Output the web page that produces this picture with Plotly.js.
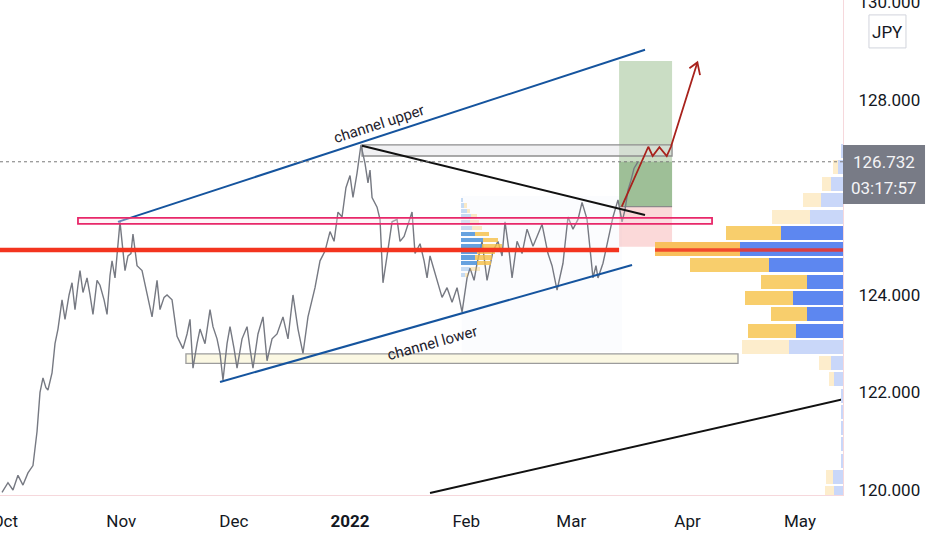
<!DOCTYPE html>
<html>
<head>
<meta charset="utf-8">
<script src="https://cdn.plot.ly/plotly-3.0.1.min.js"></script>
<style>html,body{margin:0;padding:0;background:#fff;}#chart{width:932px;height:550px;}</style>
</head>
<body>
<div id="chart"></div>
<script>
// ---------- price series ----------
const priceTime = ['2021-09-30 05:00','2021-10-01 19:00','2021-10-03 03:00','2021-10-04 11:00','2021-10-05 19:00','2021-10-07 03:00','2021-10-08 11:00','2021-10-09 13:00','2021-10-10 08:00','2021-10-11 03:00','2021-10-11 22:00','2021-10-12 11:00','2021-10-13 13:00','2021-10-14 08:00','2021-10-15 03:00','2021-10-16 05:00','2021-10-17 00:00','2021-10-18 02:00','2021-10-18 21:00','2021-10-19 16:00','2021-10-20 11:00','2021-10-21 00:00','2021-10-21 19:00','2021-10-22 21:00','2021-10-23 16:00','2021-10-24 11:00','2021-10-25 13:00','2021-10-26 08:00','2021-10-27 10:00','2021-10-28 05:00','2021-10-29 00:00','2021-10-29 13:00','2021-10-30 08:00','2021-10-31 03:00','2021-10-31 16:00','2021-11-01 11:00','2021-11-02 00:00','2021-11-02 19:00','2021-11-03 14:00','2021-11-04 03:00','2021-11-05 05:00','2021-11-06 13:00','2021-11-07 21:00','2021-11-09 05:00','2021-11-10 13:00','2021-11-11 08:00','2021-11-12 10:00','2021-11-13 05:00','2021-11-14 13:00','2021-11-15 21:00','2021-11-17 11:00','2021-11-18 13:00','2021-11-19 08:00','2021-11-20 03:00','2021-11-21 05:00','2021-11-22 00:00','2021-11-23 08:00','2021-11-24 16:00','2021-11-25 11:00','2021-11-26 13:00','2021-11-27 08:00','2021-11-28 03:00','2021-11-29 05:00','2021-11-30 00:00','2021-12-01 02:00','2021-12-01 21:00','2021-12-03 05:00','2021-12-04 13:00','2021-12-05 08:00','2021-12-06 03:00','2021-12-07 11:00','2021-12-08 19:00','2021-12-09 21:00','2021-12-11 05:00','2021-12-12 13:00','2021-12-14 03:00','2021-12-15 11:00','2021-12-16 19:00','2021-12-18 03:00','2021-12-19 11:00','2021-12-20 19:00','2021-12-21 21:00','2021-12-22 16:00','2021-12-24 00:00','2021-12-25 08:00','2021-12-26 16:00','2021-12-27 18:00','2021-12-28 19:00','2021-12-29 21:00','2021-12-30 22:00','2022-01-01 00:00','2022-01-01 19:00','2022-01-02 21:00','2022-01-03 22:00','2022-01-05 00:00','2022-01-05 19:00','2022-01-06 08:00','2022-01-06 21:00','2022-01-08 05:00','2022-01-09 00:00','2022-01-09 19:00','2022-01-10 21:00','2022-01-12 05:00','2022-01-13 13:00','2022-01-14 08:00','2022-01-15 10:00','2022-01-16 05:00','2022-01-17 13:00','2022-01-18 08:00','2022-01-19 16:00','2022-01-20 18:00','2022-01-21 13:00','2022-01-22 08:00','2022-01-23 10:00','2022-01-24 05:00','2022-01-25 13:00','2022-01-26 21:00','2022-01-28 05:00','2022-01-29 13:00','2022-01-30 21:00','2022-02-01 05:00','2022-02-02 00:00','2022-02-03 02:00','2022-02-03 21:00','2022-02-05 05:00','2022-02-06 13:00','2022-02-08 03:00','2022-02-09 11:00','2022-02-10 13:00','2022-02-11 08:00','2022-02-12 10:00','2022-02-13 05:00','2022-02-14 13:00','2022-02-15 21:00','2022-02-17 05:00','2022-02-18 19:00','2022-02-19 21:00','2022-02-21 05:00','2022-02-22 19:00','2022-02-23 21:00','2022-02-25 05:00','2022-02-26 19:00','2022-02-28 03:00','2022-03-01 11:00','2022-03-02 19:00','2022-03-03 21:00','2022-03-05 05:00','2022-03-06 00:00','2022-03-06 19:00','2022-03-07 14:00','2022-03-08 03:00','2022-03-09 11:00','2022-03-10 19:00','2022-03-12 03:00','2022-03-13 11:00','2022-03-14 13:00','2022-03-15 08:00','2022-03-16 03:00','2022-03-16 22:00','2022-03-17 18:00','2022-03-18 19:00'];
const priceClose = [119.95,120.15,120.0,120.3,120.1,120.35,120.5,121.2,122.0,122.3,122.1,122.05,122.4,123.0,123.3,123.9,123.5,124.0,124.25,123.7,124.2,124.5,124.05,124.35,124.0,123.6,124.3,124.2,123.9,123.6,124.4,124.7,124.35,125.1,125.5,124.9,124.5,124.8,124.85,125.25,124.6,124.5,124.0,123.55,124.3,123.7,123.95,124.0,123.9,123.15,122.9,123.2,123.5,122.5,123.0,123.3,123.0,123.7,123.35,123.1,122.8,122.25,123.0,123.35,122.9,122.5,123.1,123.35,122.9,122.5,123.2,123.55,122.65,123.1,123.2,123.55,123.1,124.0,123.3,122.8,123.55,123.9,124.15,124.7,124.9,125.3,125.1,125.7,125.6,126.2,126.45,126.0,126.5,127.08,126.7,126.3,126.56,126.0,125.8,125.55,124.25,124.8,125.5,125.55,125.1,125.2,125.4,125.7,124.85,125.05,124.7,124.35,124.8,124.5,124.3,123.95,124.15,123.85,124.15,123.65,124.35,124.55,124.3,124.65,125.1,124.3,124.9,125.1,124.8,125.5,124.9,124.35,125.1,124.85,125.35,125.0,125.2,125.45,124.85,124.6,124.1,124.65,125.6,125.35,125.55,125.9,125.55,125.0,124.35,124.6,124.35,124.65,125.1,125.6,125.95,125.5,125.75,126.15,126.35,126.6,126.73];
const lastPrice = 126.732;
const countdown = '03:17:57';
const currency = 'JPY';

// ---------- axis ticks ----------
const monthTicks = ['2021-10-01','2021-11-01','2021-12-01','2022-01-01','2022-02-01','2022-03-01','2022-04-01','2022-05-01'];
const monthLabels = ['Oct','Nov','Dec','<b>2022</b>','Feb','Mar','Apr','May'];
const priceTicks = [120,122,124,128,130];

// ---------- drawings ----------
const channelUpperT = ['2021-10-31 03:00','2022-03-20 16:00'];
const channelUpperP = [125.50,129.03];
const channelLowerT = ['2021-11-27 08:00','2022-03-17 05:00'];
const channelLowerP = [122.215,124.615];
const trendT = ['2022-01-04 05:00','2022-03-20 16:00'];
const trendP = [127.06,125.64];
const longTrendT = ['2022-01-22 08:00','2022-05-12 11:00'];
const longTrendP = [119.94,121.86];
const projT = ['2022-03-14 11:00','2022-03-21 13:00','2022-03-22 17:00','2022-03-24 12:00','2022-03-26 11:00','2022-03-27 14:00','2022-04-03 15:00'];
const projP = [125.81,127.04,126.85,127.03,126.85,127.04,128.77];
const arrowHeadT = ['2022-04-01 12:00','2022-04-03 15:00','2022-04-04 08:00'];
const arrowHeadP = [128.65,128.77,128.51];

const resistanceT = ['2022-01-04 05:00','2022-03-27 21:00'];
const resistanceP = [126.85,127.08];
const pinkZoneT = ['2021-10-20 11:00','2022-04-07 13:00'];
const pinkZoneP = [125.46,125.58];
const supportT = ['2021-11-18 06:00','2022-04-14 11:00'];
const supportP = [122.595,122.79];
const longT = ['2022-03-13 18:00','2022-03-27 21:00'];
const longEntry = 125.81, longTarget = 128.80, longStop = 124.99;
const keyLevel = 124.92;
const keyLevelT = ['2021-09-29 16:00','2022-03-13 18:00'];
const pocT = ['2022-03-23 08:00','2022-05-12 11:00'];
const midBoxT = ['2022-01-30 19:00','2022-03-14 13:00'];
const midBoxP = [122.83,126.03];
const labelUpper = {t:'2022-01-08 17:00', p:127.50, text:'channel upper'};
const labelLower = {t:'2022-01-23 03:00', p:123.02, text:'channel lower'};

// ---------- volume profiles ----------
const profLevels = [126.95,126.615,126.283,125.949,125.606,125.272,124.944,124.605,124.273,123.943,123.6,123.266,122.94,122.605,122.27,121.936,121.602,121.268,120.933,120.599,120.265,119.93];
const profUp   = [2,4.7,12.3,22.3,33,62.3,103,73.7,36.3,49.7,36.3,47,53.7,12,9,2,2,2,2,2,10,9];
const profDown = [0,5,8.4,18,37.7,55,85.3,79.3,45.7,48,35.7,47.7,47.6,11.7,4.7,0,0,0,0,0,6.7,9];
const profInVA = [0,0,0,0,0,1,1,1,1,1,1,1,0,0,0,0,0,0,0,0,0,0];

const midLevels = [125.949,125.836,125.723,125.606,125.487,125.368,125.251,125.128,125.005,124.888,124.769,124.652,124.533,124.41];
const midUp   = [1.5,3,6,10,9,11,14,22,21,16,14,16,9,4];
const midDown = [0,3,3,6,9,10,14,15,20,18,17,14,10,3];
const midInVA = [0,0,0,0,0,0,1,1,1,1,1,1,0,0];

// ---------- styling ----------
const FONT = 'Roboto, "Liberation Sans", sans-serif';
const blueSolid='rgb(93,135,240)', blueFaint='rgb(201,215,249)';
const yelSolid='rgb(248,206,108)', yelFaint='rgb(253,237,204)';
const mBlueSolid='rgba(74,144,217,0.85)', mBlueFaint='rgba(74,144,217,0.3)';
const mYelSolid='rgba(245,190,70,0.8)', mYelFaint='rgba(245,190,70,0.3)';

const traces = [
  {type:'scatter', mode:'lines', x:priceTime, y:priceClose, line:{color:'#767982', width:1.4}, hoverinfo:'skip'},
  {type:'scatter', mode:'lines', x:channelUpperT, y:channelUpperP, line:{color:'#15549e', width:2}, hoverinfo:'skip'},
  {type:'scatter', mode:'lines', x:channelLowerT, y:channelLowerP, line:{color:'#15549e', width:2}, hoverinfo:'skip'},
  {type:'scatter', mode:'lines', x:trendT, y:trendP, line:{color:'#111111', width:2}, hoverinfo:'skip'},
  {type:'scatter', mode:'lines', x:longTrendT, y:longTrendP, line:{color:'#111111', width:2}, hoverinfo:'skip'},
  {type:'scatter', mode:'lines', x:projT, y:projP, line:{color:'#a8221c', width:1.8}, hoverinfo:'skip'},
  {type:'scatter', mode:'lines', x:arrowHeadT, y:arrowHeadP, line:{color:'#a8221c', width:1.8}, hoverinfo:'skip'},
  // right-hand visible-range profile
  {type:'bar', orientation:'h', xaxis:'x2', yaxis:'y', y:profLevels, x:profUp, width:0.287,
   marker:{color:profInVA.map(v=>v?blueSolid:blueFaint), line:{width:0}}, hoverinfo:'skip'},
  {type:'bar', orientation:'h', xaxis:'x2', yaxis:'y', y:profLevels, x:profDown, width:0.287,
   marker:{color:profInVA.map((v,i)=>v?(i===6?'rgb(249,192,92)':yelSolid):yelFaint), line:{width:0}}, hoverinfo:'skip'},
  // fixed-range profile in the middle
  {type:'bar', orientation:'h', xaxis:'x3', yaxis:'y', y:midLevels, x:midUp, width:0.09,
   marker:{color:midInVA.map(v=>v?mBlueSolid:mBlueFaint), line:{width:0}}, hoverinfo:'skip'},
  {type:'bar', orientation:'h', xaxis:'x3', yaxis:'y', y:midLevels, x:midDown, width:0.09,
   marker:{color:midInVA.map(v=>v?mYelSolid:mYelFaint), line:{width:0}}, hoverinfo:'skip'}
];

const shapes = [
  {type:'rect', layer:'below', xref:'x', yref:'y', x0:midBoxT[0], x1:midBoxT[1], y0:midBoxP[0], y1:midBoxP[1], fillcolor:'rgba(90,140,230,0.025)', line:{width:0}},
  {type:'rect', layer:'below', xref:'x', yref:'y', x0:longT[0], x1:longT[1], y0:longEntry, y1:longTarget, fillcolor:'rgba(90,150,70,0.32)', line:{width:0}},
  {type:'rect', layer:'below', xref:'x', yref:'y', x0:longT[0], x1:longT[1], y0:longEntry, y1:lastPrice, fillcolor:'rgba(70,130,60,0.33)', line:{width:0}},
  {type:'rect', layer:'below', xref:'x', yref:'y', x0:longT[0], x1:longT[1], y0:longStop, y1:longEntry, fillcolor:'rgba(242,120,120,0.28)', line:{width:0}},
  {type:'line', layer:'below', xref:'x', yref:'y', x0:longT[0], x1:longT[1], y0:longEntry, y1:longEntry, line:{color:'#8a8a8a', width:1.2}},
  {type:'rect', layer:'below', xref:'x', yref:'y', x0:resistanceT[0], x1:resistanceT[1], y0:resistanceP[0], y1:resistanceP[1], fillcolor:'rgba(225,225,228,0.45)', line:{color:'#8e8e8e', width:1.3}},
  {type:'rect', layer:'below', xref:'x', yref:'y', x0:supportT[0], x1:supportT[1], y0:supportP[0], y1:supportP[1], fillcolor:'#fbf8e3', line:{color:'#9c9c9c', width:1.3}},
  {type:'rect', layer:'above', xref:'x', yref:'y', x0:pinkZoneT[0], x1:pinkZoneT[1], y0:pinkZoneP[0], y1:pinkZoneP[1], fillcolor:'rgba(252,225,235,0.35)', line:{color:'#e8286a', width:1.8}},
  {type:'line', layer:'above', xref:'x', yref:'y', x0:keyLevelT[0], x1:keyLevelT[1], y0:keyLevel, y1:keyLevel, line:{color:'#f3341f', width:4.5}},
  {type:'line', layer:'above', xref:'x', yref:'y', x0:pocT[0], x1:pocT[1], y0:keyLevel, y1:keyLevel, line:{color:'rgba(240,50,35,0.85)', width:3.5}},
  {type:'line', layer:'above', xref:'paper', yref:'y', x0:0, x1:1, y0:lastPrice, y1:lastPrice, line:{color:'#7a7a7a', width:1, dash:'dot'}},
  // price label on the axis
  {type:'rect', layer:'above', xref:'paper', yref:'y', x0:1.0, x1:1.0973, y0:125.867, y1:127.077, fillcolor:'#787b86', line:{width:0}},
  {type:'rect', layer:'above', xref:'paper', yref:'y', x0:1.0308, x1:1.0747, y0:129.067, y1:129.744, fillcolor:'#ffffff', line:{color:'#d1d4dc', width:1}}
];

const annotations = [
  {xref:'x', yref:'y', x:labelUpper.t, y:labelUpper.p, text:labelUpper.text, showarrow:false, textangle:-18, xanchor:'center', yanchor:'middle', font:{family:'Roboto, sans-serif', size:15, color:'#1e222d'}},
  {xref:'x', yref:'y', x:labelLower.t, y:labelLower.p, text:labelLower.text, showarrow:false, textangle:-15.5, xanchor:'center', yanchor:'middle', font:{family:'Roboto, sans-serif', size:15, color:'#1e222d'}},
  {xref:'paper', yref:'y', x:1.0486, y:lastPrice, text:lastPrice.toFixed(3), showarrow:false, xanchor:'center', yanchor:'middle', font:{family:FONT, size:17, color:'#f4f4f6'}},
  {xref:'paper', yref:'y', x:1.0486, y:126.19, text:countdown, showarrow:false, xanchor:'center', yanchor:'middle', font:{family:FONT, size:17, color:'#f4f4f6'}},
  {xref:'paper', yref:'y', x:1.0527, y:129.40, text:currency, showarrow:false, xanchor:'center', yanchor:'middle', font:{family:FONT, size:17, color:'#131722'}}
];

const layout = {
  width:932, height:550,
  margin:{l:0, r:89, t:0, b:55},
  paper_bgcolor:'#ffffff', plot_bgcolor:'#ffffff',
  showlegend:false, barmode:'stack', hovermode:false,
  xaxis:{type:'date', range:['2021-09-29 16:00','2022-05-12 11:00'], tickvals:monthTicks, ticktext:monthLabels,
         showgrid:false, zeroline:false, showline:true, linecolor:'#f6d8dc', linewidth:1, ticks:'',
         tickfont:{family:FONT, size:17, color:'#131722'}, ticklabelstandoff:11, ticklabeloverflow:'allow', automargin:false, fixedrange:true},
  xaxis2:{overlaying:'x', range:[843,0], visible:false, fixedrange:true},
  xaxis3:{overlaying:'x', range:[-461,382], visible:false, fixedrange:true},
  yaxis:{range:[119.897,130.05], side:'right', tickvals:priceTicks, tickformat:'.3f',
         showgrid:false, zeroline:false, showline:true, linecolor:'#f6d8dc', linewidth:1, ticks:'',
         tickfont:{family:FONT, size:17, color:'#131722'}, ticklabelstandoff:11, ticklabeloverflow:'allow', automargin:false, fixedrange:true},
  shapes:shapes, annotations:annotations
};

Plotly.newPlot('chart', traces, layout, {displayModeBar:false, staticPlot:true});
</script>
</body>
</html>
